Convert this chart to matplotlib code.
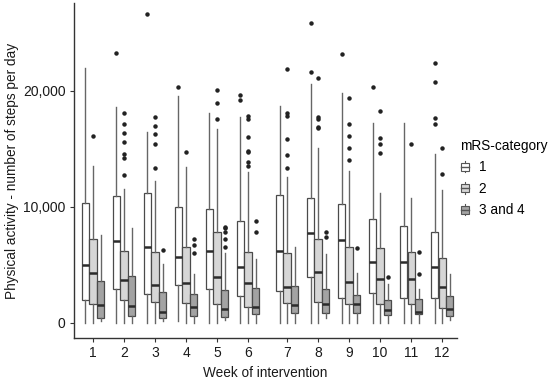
import matplotlib
matplotlib.use("Agg")
import matplotlib.pyplot as plt
from matplotlib.legend_handler import HandlerBase
from matplotlib.patches import Rectangle
from matplotlib.lines import Line2D

plt.rcParams["font.family"] = ["Liberation Sans", "DejaVu Sans"]

weeks = ["1", "2", "3", "4", "5", "6", "7", "8", "9", "10", "11", "12"]
categories = ["1", "2", "3 and 4"]

# box statistics per mRS-category, one value per week
cat1_low = [0, 0, 0, 100, 0, 0, 0, 0, 0, 0, 0, 0]
cat1_q1 = [1950, 2900, 2500, 3250, 2900, 2300, 2730, 3940, 2150, 2590, 2150, 2100]
cat1_med = [5000, 7040, 6550, 5660, 6180, 4830, 6210, 7760, 7130, 5200, 5260, 4770]
cat1_q3 = [10350, 10950, 11210, 9940, 9830, 8790, 11010, 10720, 10200, 8940, 8330, 7850]
cat1_high = [21930, 18620, 16470, 19570, 18050, 17700, 18680, 20550, 19770, 17190, 17190, 14510]
cat1_out = [[], [23220], [26610], [20350], [], [19630, 19200], [], [25870, 21640],
            [23140], [20350], [], [22360, 20780, 17680, 17100]]

cat2_low = [0, 0, 0, 0, 0, 0, 0, 0, 0, 0, 0, 0]
cat2_q1 = [1610, 1950, 1750, 1720, 1610, 1320, 1670, 1750, 1580, 1580, 1580, 1290]
cat2_med = [4250, 3680, 3250, 3390, 3910, 3390, 3100, 4370, 3540, 3740, 3740, 3050]
cat2_q3 = [7190, 6150, 6060, 6520, 7850, 6060, 5980, 7190, 6500, 6410, 6120, 5600]
cat2_high = [13540, 11500, 12220, 13450, 16670, 13020, 12530, 15030, 13100, 11210, 10720, 11440]
cat2_out = [[16120],
            [18050, 17100, 16380, 15610, 14510, 14170, 12700],
            [17760, 16990, 16300, 15430, 13310],
            [14720],
            [20060, 18910, 17560],
            [17820, 17530, 16040, 14830, 14690, 13880, 13510],
            [21870, 18050, 17850, 15810, 14460, 13360],
            [21070, 17700, 17560, 16900, 16760],
            [19400, 17130, 16120, 15090, 14030],
            [18280, 15890, 15430, 14600],
            [15380],
            [15090, 12850]]

cat3_low = [100, 0, 100, 0, 200, 0, 0, 370, 0, 0, 0, 250]
cat3_q1 = [430, 580, 430, 580, 520, 720, 860, 860, 810, 660, 720, 600]
cat3_med = [1490, 1440, 950, 1320, 1150, 1320, 1520, 1640, 1580, 1090, 950, 1150]
cat3_q3 = [3620, 4000, 2620, 2440, 2820, 2960, 3160, 2930, 2410, 1950, 2010, 2330]
cat3_high = [7560, 8160, 5090, 4200, 5980, 5490, 6500, 5920, 4310, 3300, 2870, 4200]
cat3_out = [[], [], [6290], [7190, 6730, 6040], [8280, 8130, 7790, 7190, 6500],
            [8740, 7790], [], [7790, 7360], [6440], [3910], [6120, 4200], []]

week_pos = [1, 2, 3, 4, 5, 6, 7.26, 8.26, 9.26, 10.26, 11.26, 12.26]
fills = ["#ffffff", "#d6d6d6", "#a3a3a3"]
edge = "#4a4a4a"

series = [
    (cat1_low, cat1_q1, cat1_med, cat1_q3, cat1_high, cat1_out),
    (cat2_low, cat2_q1, cat2_med, cat2_q3, cat2_high, cat2_out),
    (cat3_low, cat3_q1, cat3_med, cat3_q3, cat3_high, cat3_out),
]

fig = plt.figure(figsize=(5.5, 3.81), dpi=100)
ax = fig.add_axes([0.1345, 0.113, 0.6965, 0.879])

offsets = [-0.245, 0.0, 0.245]
for k, (lo, q1, med, q3, hi, out) in enumerate(series):
    stats = []
    for i in range(len(weeks)):
        stats.append(dict(whislo=lo[i], q1=q1[i], med=med[i], q3=q3[i],
                          whishi=hi[i], fliers=out[i]))
    ax.bxp(stats, positions=[p + offsets[k] for p in week_pos], widths=0.235,
           showcaps=False, patch_artist=True, manage_ticks=False,
           boxprops=dict(facecolor=fills[k], edgecolor=edge, linewidth=0.9),
           medianprops=dict(color="#2b2b2b", linewidth=1.8),
           whiskerprops=dict(color="#666666", linewidth=1.0),
           flierprops=dict(marker="o", markersize=2.2, markerfacecolor="#222222",
                           markeredgecolor="#222222"))

ax.set_xlim(0.387, 12.74)
ax.set_ylim(-1320, 27560)
ax.set_xticks(week_pos)
ax.set_xticklabels(weeks)
ax.set_yticks([0, 10000, 20000])
ax.set_yticklabels(["0", "10,000", "20,000"])
for s in ["top", "right"]:
    ax.spines[s].set_visible(False)
for s in ["left", "bottom"]:
    ax.spines[s].set_color("#333333")
    ax.spines[s].set_linewidth(1.0)
ax.tick_params(axis="both", length=3, width=0.8, color="#333333",
               labelsize=10, labelcolor="#1a1a1a", pad=3)
ax.set_xlabel("Week of intervention", fontsize=9.8, color="#1a1a1a", labelpad=4)
ax.set_ylabel("Physical activity - number of steps per day", fontsize=9.8,
              color="#1a1a1a", labelpad=3)


class BoxKey(HandlerBase):
    def create_artists(self, legend, orig_handle, xdescent, ydescent,
                       width, height, fontsize, trans):
        cx = width / 2 - xdescent
        bw = width * 0.75
        rect = Rectangle((cx - bw / 2, -ydescent + height * 0.15), bw, height * 0.7,
                         facecolor=orig_handle.get_facecolor(), edgecolor="#555555",
                         linewidth=0.8, transform=trans)
        mid = -ydescent + height / 2
        med = Line2D([cx - bw / 2, cx + bw / 2], [mid, mid], color="#555555",
                     linewidth=1.0, transform=trans)
        w1 = Line2D([cx, cx], [-ydescent, -ydescent + height * 0.15],
                    color="#555555", linewidth=0.8, transform=trans)
        w2 = Line2D([cx, cx], [-ydescent + height * 0.85, -ydescent + height],
                    color="#555555", linewidth=0.8, transform=trans)
        return [rect, med, w1, w2]


handles = [Rectangle((0, 0), 1, 1, facecolor=c) for c in fills]
leg = fig.legend(handles, categories, title="mRS-category",
                 handler_map={Rectangle: BoxKey()},
                 loc="upper left", bbox_to_anchor=(0.826, 0.65),
                 frameon=False, fontsize=9.8, title_fontsize=9.8,
                 handlelength=0.8, handleheight=0.9, handletextpad=0.6,
                 labelspacing=0.55, borderaxespad=0)
leg._legend_box.align = "left"

fig.savefig("out.png", dpi=100)
